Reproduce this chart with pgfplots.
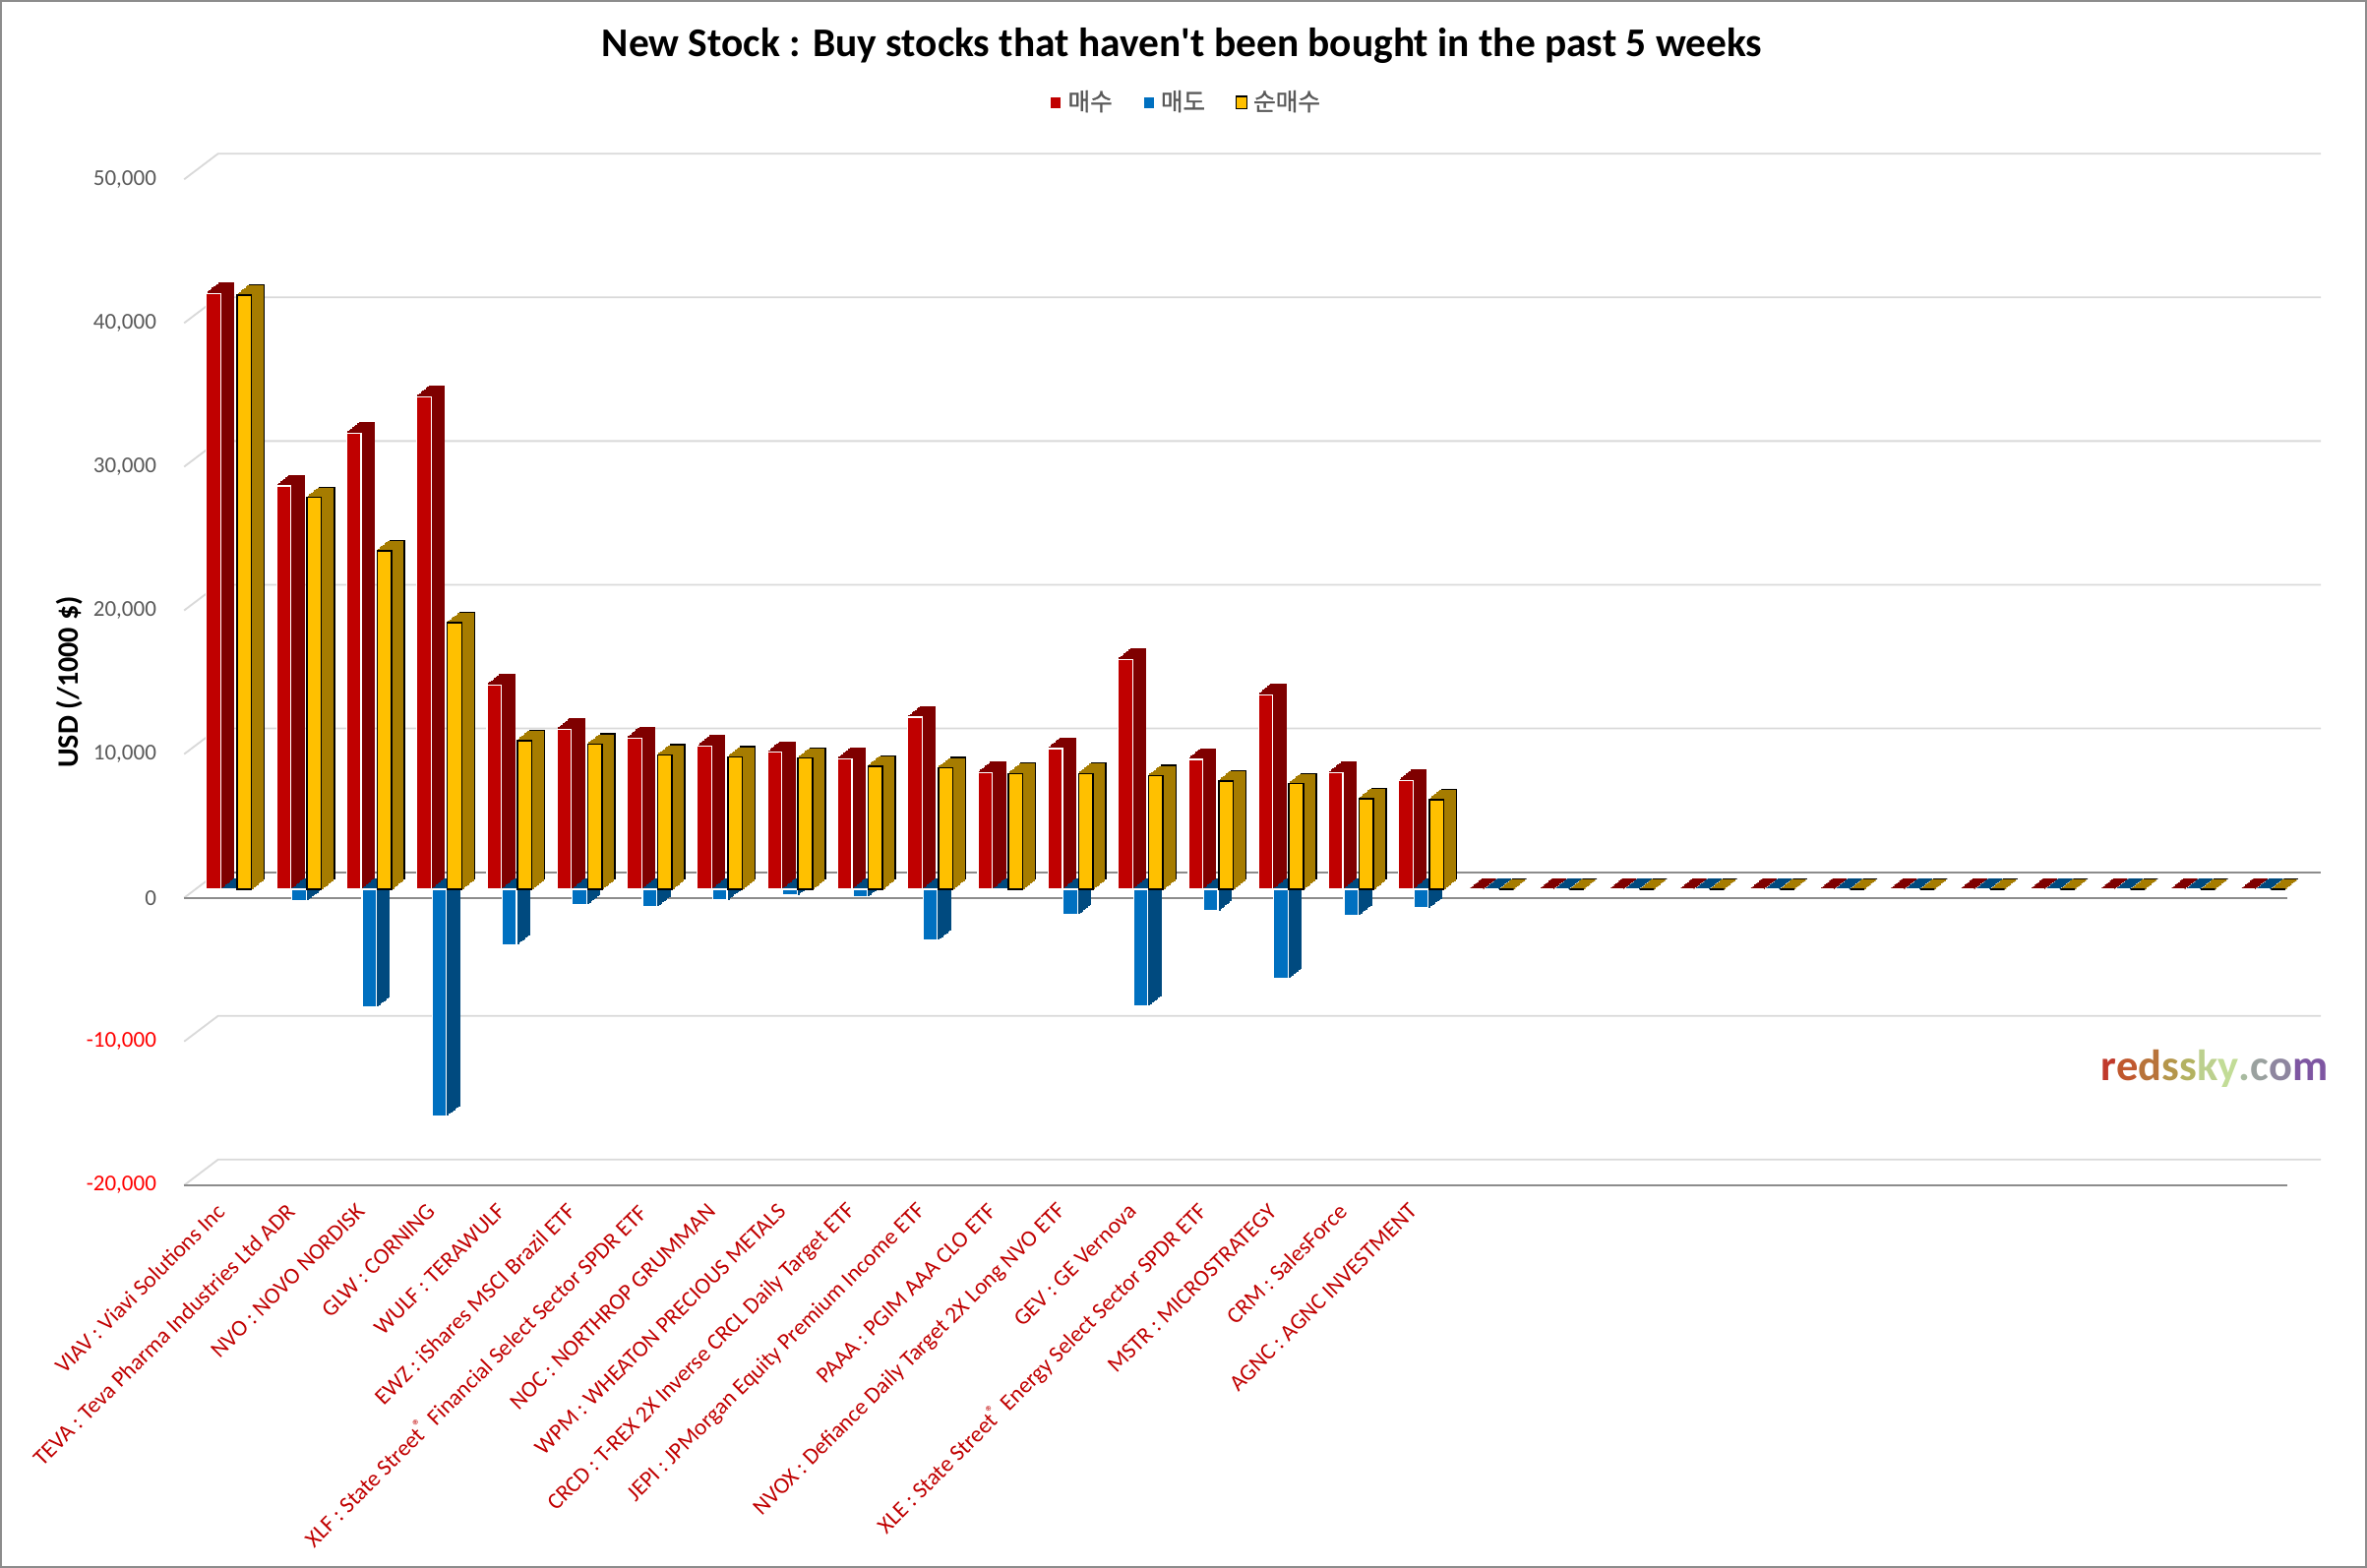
\documentclass[border=0pt]{standalone}
\usepackage{pgfplots}
\pgfplotsset{compat=1.18}
\usepackage{pgfplotstable}
\usepackage{fontspec}
\setmainfont{Carlito}
\newfontfamily\cjk{Noto Sans CJK KR}[FakeBold=1.2]
\definecolor{redf}{HTML}{C00000}
\definecolor{redd}{HTML}{7F0000}
\definecolor{bluef}{HTML}{0070C0}
\definecolor{blued}{HTML}{004A7F}
\definecolor{yelf}{HTML}{FFC000}
\definecolor{yeld}{HTML}{A67C00}
\definecolor{gridc}{HTML}{D9D9D9}
\definecolor{axisc}{HTML}{8C8C8C}
\definecolor{txtgray}{HTML}{595959}
\definecolor{labred}{HTML}{C00000}
\definecolor{negred}{HTML}{FF0000}
\definecolor{w1}{HTML}{C0392B}
\definecolor{w2}{HTML}{C0582E}
\definecolor{w3}{HTML}{B8733A}
\definecolor{w4}{HTML}{B5964B}
\definecolor{w5}{HTML}{B3B261}
\definecolor{w6}{HTML}{BCD08E}
\definecolor{w7}{HTML}{C2DC97}
\definecolor{w8}{HTML}{A8BBA0}
\definecolor{w9}{HTML}{9AA19F}
\definecolor{w10}{HTML}{8E869F}
\definecolor{w11}{HTML}{7E56A2}

\pgfplotstableread{
i buy sell net
0 41450 -100 41350
1 28070 -800 27270
2 31740 -8170 23570
3 34290 -15750 18540
4 14200 -3840 10360
5 11140 -1050 10090
6 10540 -1200 9340
7 9950 -750 9200
8 9530 -400 9130
9 9080 -500 8580
10 11980 -3530 8450
11 8100 -50 8050
12 9800 -1750 8050
13 16000 -8100 7900
14 9050 -1500 7550
15 13550 -6200 7350
16 8100 -1800 6300
17 7550 -1300 6250
18 0 0 0
19 0 0 0
20 0 0 0
21 0 0 0
22 0 0 0
23 0 0 0
24 0 0 0
25 0 0 0
26 0 0 0
27 0 0 0
28 0 0 0
29 0 0 0
}\stockdata

\pgfplotsset{
  rbar/.style={ybar, bar width=4.75pt, bar shift=-5.05pt},
  bbar/.style={ybar, bar width=4.75pt, bar shift=0pt},
  gbar/.style={ybar, bar width=4.75pt, bar shift=5.05pt},
}

\begin{document}
\begin{tikzpicture}
\useasboundingbox (0,0) rectangle (784pt,519.4pt);
\draw[axisc,line width=0.6pt] (0.3pt,0.3pt) rectangle (783.7pt,519.1pt);
\begin{axis}[
  at={(61pt,126.8pt)}, anchor=south west,
  scale only axis, width=696.5pt, height=333.2pt,
  xmin=-0.637, xmax=29.345, ymin=-20000, ymax=50000,
  clip=false,
  scaled y ticks=false,
  axis line style={draw=none},
  major tick style={draw=none},
  ytick={-20000,-10000,0,10000,20000,30000,40000,50000},
  yticklabels={{\color{negred}-20,000},{\color{negred}-10,000},0,{10,000},{20,000},{30,000},{40,000},{50,000}},
  yticklabel style={font=\fontsize{7.5}{9}\selectfont, text=txtgray, anchor=east, inner sep=0pt, xshift=-9pt},
  xtick={0,1,...,17},
  xticklabels={
    {VIAV : Viavi Solutions Inc},
    {TEVA : Teva Pharma Industries Ltd ADR},
    {NVO : NOVO NORDISK},
    {GLW : CORNING},
    {WULF : TERAWULF},
    {EWZ : iShares MSCI Brazil ETF},
    {XLF : State Street\textsuperscript{®} Financial Select Sector SPDR ETF},
    {NOC : NORTHROP GRUMMAN},
    {WPM : WHEATON PRECIOUS METALS},
    {CRCD : T-REX 2X Inverse CRCL Daily Target ETF},
    {JEPI : JPMorgan Equity Premium Income ETF},
    {PAAA : PGIM AAA CLO ETF},
    {NVOX : Defiance Daily Target 2X Long NVO ETF},
    {GEV : GE Vernova},
    {XLE : State Street\textsuperscript{®} Energy Select Sector SPDR ETF},
    {MSTR : MICROSTRATEGY},
    {CRM : SalesForce},
    {AGNC : AGNC INVESTMENT}},
  xticklabel style={font=\fontsize{7.6}{9}\selectfont, text=labred, inner sep=0pt, xshift=-2.6pt, yshift=-7.3pt, rotate=45, anchor=east},
  every axis title shift=0pt,
  title={New Stock : Buy stocks that haven\textquotesingle t been bought in the past 5 weeks},
  title style={font=\bfseries\fontsize{13.5}{16}\selectfont, at={(axis description cs:0.4745,1.133)}, anchor=center},
  ylabel={USD (/1000 \$)},
  ylabel style={font=\bfseries\fontsize{9.8}{12}\selectfont, at={(axis description cs:-0.0545,0.5)}, anchor=center},
  legend style={draw=none, fill=none, at={(axis description cs:0.4774,1.0762)}, anchor=center,
    legend columns=3, font=\cjk\fontsize{8}{9.5}\selectfont, text=txtgray,
    /tikz/every even column/.append style={column sep=8pt}, inner sep=0pt},
  legend image code/.code={\draw[#1,yshift=-2.8pt,line width=0.4pt] (0pt,-2.1pt) rectangle (3.6pt,2.1pt);},
]
% walls and floor lines
\pgfplotsinvokeforeach{-20000,-10000,10000,20000,30000,40000,50000}{
  \draw[gridc,line width=0.6pt] (axis cs:-0.637,#1) -- ([shift={(11.25pt,8.5pt)}]axis cs:-0.637,#1) -- ([shift={(11.25pt,8.5pt)}]axis cs:29.345,#1);
}
\draw[gridc,line width=0.6pt] (axis cs:-0.637,0) -- ([shift={(11.25pt,8.5pt)}]axis cs:-0.637,0);
\draw[axisc,line width=0.7pt] ([shift={(11.25pt,8.5pt)}]axis cs:-0.637,0) -- ([shift={(11.25pt,8.5pt)}]axis cs:29.345,0);
\draw[axisc,line width=0.7pt] (axis cs:-0.637,0) -- (axis cs:29.345,0);
\draw[axisc,line width=0.7pt] (axis cs:-0.637,-20000) -- (axis cs:29.345,-20000);

% buy (red)
\pgfplotsinvokeforeach{8,7,6,5,4,3,2,1}{
  \addplot[rbar, forget plot, fill=redd, draw=redd, line width=0.6pt, xshift=#1*0.53125pt, yshift=2.8pt+#1*0.425pt] table[x=i,y=buy]{\stockdata};
}
\addplot[rbar, fill=redf, draw=white, line width=0.4pt, yshift=2.8pt] table[x=i,y=buy]{\stockdata};
\addlegendentry{매수}
% sell (blue)
\pgfplotsinvokeforeach{8,7,6,5,4,3,2,1}{
  \addplot[bbar, forget plot, fill=blued, draw=blued, line width=0.6pt, xshift=#1*0.53125pt, yshift=2.8pt+#1*0.425pt] table[x=i,y=sell]{\stockdata};
}
\addplot[bbar, fill=bluef, draw=white, line width=0.4pt, yshift=2.8pt] table[x=i,y=sell]{\stockdata};
\addlegendentry{매도}
% net (yellow)
\addplot[gbar, forget plot, fill=yeld, draw=black, line width=0.5pt, xshift=8*0.53125pt, yshift=2.8pt+8*0.425pt] table[x=i,y=net]{\stockdata};
\pgfplotsinvokeforeach{7,6,5,4,3,2,1}{
  \addplot[gbar, forget plot, fill=yeld, draw=yeld, line width=0.6pt, xshift=#1*0.53125pt, yshift=2.8pt+#1*0.425pt] table[x=i,y=net]{\stockdata};
}
\addplot[gbar, fill=yelf, draw=black, line width=0.5pt, yshift=2.8pt] table[x=i,y=net]{\stockdata};
\addlegendentry{순매수}
\end{axis}
\node[font=\bfseries\fontsize{14.5}{16}\selectfont, anchor=center] at (733.5pt,165.4pt)
  {\textcolor{w1}{r}\textcolor{w2}{e}\textcolor{w3}{d}\textcolor{w4}{s}\textcolor{w5}{s}\textcolor{w6}{k}\textcolor{w7}{y}\textcolor{w8}{.}\textcolor{w9}{c}\textcolor{w10}{o}\textcolor{w11}{m}};
\end{tikzpicture}
\end{document}
